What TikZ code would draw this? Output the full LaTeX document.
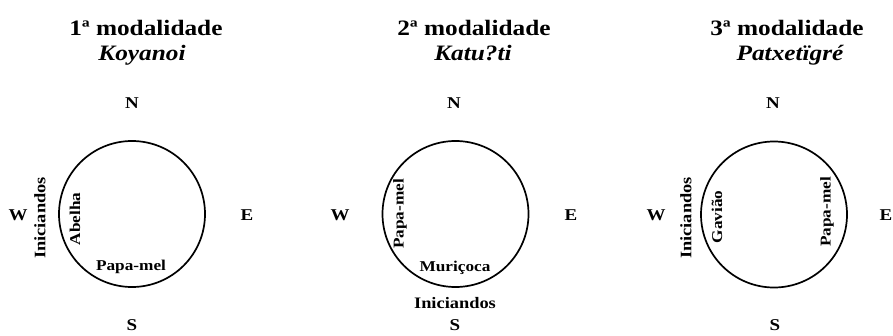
\documentclass[tikz,border=0pt]{standalone}
\usepackage{fontspec}
\setmainfont{Liberation Serif}[FakeStretch=1.15]
\begin{document}
\begin{tikzpicture}[x=1pt,y=-1pt,
  ring/.style={draw,line width=1.7pt,circle,minimum size=146pt,inner sep=0pt},
  dir/.style={font=\fontsize{16.5}{18}\selectfont\bfseries,inner sep=0pt},
  ttl/.style={font=\fontsize{22}{24}\selectfont\bfseries,inner sep=0pt,anchor=base},
  sub/.style={font=\fontsize{22}{24}\selectfont\bfseries\itshape,inner sep=0pt,anchor=base},
  lab/.style={font=\fontsize{15}{17}\selectfont\bfseries,inner sep=0pt},
  vlab/.style={lab,rotate=90}]
\useasboundingbox (0,0) rectangle (893,335);
% panel 1
\node[ttl] (t1) at (146,35) {1ª modalidade};
\node[sub] (s1) at (142,60) {Koyanoi};
\node[ring] (c1) at (132,214) {};
\node[dir] (n1) at (132,103) {N};
\node[dir] (w1) at (18,215.5) {W};
\node[dir] (e1) at (247,215.5) {E};
\node[dir] (so1) at (132,325.5) {S};
\node[vlab,font=\fontsize{16}{18}\selectfont\bfseries] (i1) at (40,218) {Iniciandos};
\node[vlab] (a1) at (75,219) {Abelha};
\node[lab] (p1) at (131,267) {Papa-mel};
% panel 2
\node[ttl] (t2) at (474,35) {2ª modalidade};
\node[sub] (s2) at (473,60) {Katu?ti};
\node[ring] (c2) at (455.5,214) {};
\node[dir] (n2) at (454,103) {N};
\node[dir] (w2) at (340,215.5) {W};
\node[dir] (e2) at (571,215.5) {E};
\node[dir] (so2) at (455,325.5) {S};
\node[vlab] (p2) at (400,214) {Papa-mel};
\node[lab] (m2) at (455,268) {Muriçoca};
\node[lab,font=\fontsize{16}{18}\selectfont\bfseries] (i2) at (455,303) {Iniciandos};
% panel 3
\node[ttl] (t3) at (787,35) {3ª modalidade};
\node[sub] (s3) at (790,60) {Patxetïgré};
\node[ring] (c3) at (774,214.5) {};
\node[dir] (n3) at (773,103) {N};
\node[dir] (w3) at (656,215.5) {W};
\node[dir] (e3) at (886,215.5) {E};
\node[dir] (so3) at (775,325.5) {S};
\node[vlab,font=\fontsize{16}{18}\selectfont\bfseries] (i3) at (686,218) {Iniciandos};
\node[vlab] (g3) at (717,217) {Gavião};
\node[vlab] (p3) at (827,212) {Papa-mel};
\end{tikzpicture}
\end{document}
